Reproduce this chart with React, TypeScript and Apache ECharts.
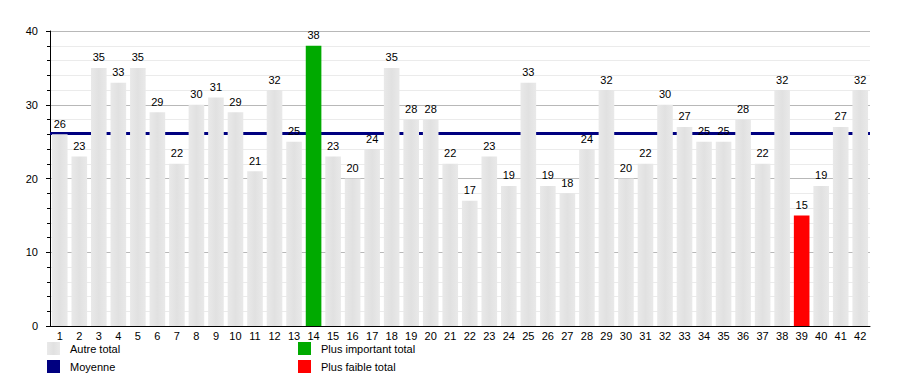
import React, { useEffect, useRef } from "react";
import * as echarts from "echarts";

const categories = ["1","2","3","4","5","6","7","8","9","10","11","12","13","14","15","16","17","18","19","20","21","22","23","24","25","26","27","28","29","30","31","32","33","34","35","36","37","38","39","40","41","42"];
const totals = [26,23,35,33,35,29,22,30,31,29,21,32,25,38,23,20,24,35,28,28,22,17,23,19,33,19,18,24,32,20,22,30,27,25,25,28,22,32,15,19,27,32];
const yTicks = [0, 10, 20, 30, 40];
const seriesNames = ["Autre total", "Moyenne", "Plus important total", "Plus faible total"];

export default function App() {
  const ref = useRef<HTMLDivElement>(null);
  useEffect(() => {
    if (!ref.current) return;
    const chart = echarts.init(ref.current, null, { renderer: "svg" });
    const maxV = Math.max(...totals);
    const minV = Math.min(...totals);
    const maxI = totals.indexOf(maxV);
    const minI = totals.indexOf(minV);
    const mean = totals.reduce((a, b) => a + b, 0) / totals.length;
    const others = totals.map((v, i) => (i === maxI || i === minI ? "-" : v));
    const maxData = totals.map((v, i) => (i === maxI ? v : "-"));
    const minData = totals.map((v, i) => (i === minI ? v : "-"));
    const font = "Liberation Sans";
    const label = { show: true, position: "top", distance: 5, fontSize: 11, color: "#000", fontFamily: font };
    const grey = new echarts.graphic.LinearGradient(0, 0, 1, 0, [
      { offset: 0, color: "#e9e9e9" },
      { offset: 0.5, color: "#e1e1e1" },
      { offset: 1, color: "#e9e9e9" },
    ]);
    const legendText = { fontSize: 11, color: "#000", fontFamily: font, padding: [0, 0, 0, 5] };
    chart.setOption({
      animation: false,
      textStyle: { fontFamily: font },
      grid: { left: 50, right: 30, top: 31, bottom: 49, containLabel: false },
      legend: [
        {
          data: [seriesNames[0], seriesNames[1]],
          orient: "vertical", left: 47, top: 342, icon: "rect",
          itemWidth: 13, itemHeight: 13, itemGap: 5,
          textStyle: legendText,
          padding: 0,
        },
        {
          data: [seriesNames[2], seriesNames[3]],
          orient: "vertical", left: 298, top: 342, icon: "rect",
          itemWidth: 13, itemHeight: 13, itemGap: 5,
          textStyle: legendText,
          padding: 0,
        },
      ],
      xAxis: {
        type: "category",
        data: categories,
        axisLine: { lineStyle: { color: "#000", width: 1 } },
        axisTick: { show: false },
        axisLabel: { interval: 0, fontSize: 11, color: "#000", margin: 4, fontFamily: font },
        splitLine: { show: false },
      },
      yAxis: {
        type: "value",
        min: yTicks[0],
        max: yTicks[yTicks.length - 1],
        interval: 10,
        axisLine: { show: true, lineStyle: { color: "#000", width: 1 } },
        axisTick: { show: true, length: 4, lineStyle: { color: "#000" } },
        minorTick: { show: true, splitNumber: 5, length: 3, lineStyle: { color: "#000" } },
        axisLabel: { fontSize: 11, color: "#000", margin: 12, fontFamily: font },
        splitLine: { show: true, lineStyle: { color: "#b8b8b8", width: 1 } },
        minorSplitLine: { show: true, lineStyle: { color: "#ebebeb", width: 1 } },
      },
      series: [
        {
          name: seriesNames[0], type: "bar", data: others, barWidth: "80%", barGap: "-100%",
          itemStyle: { color: grey }, label, z: 2,
        },
        {
          name: seriesNames[1], type: "line", data: [], z: 1,
          itemStyle: { color: "#000080" }, lineStyle: { color: "#000080" },
          markLine: {
            silent: true, symbol: "none", label: { show: false },
            lineStyle: { color: "#000080", width: 3, type: "solid" },
            data: [{ yAxis: mean }],
            z: 1,
          },
        },
        {
          name: seriesNames[2], type: "bar", data: maxData, barWidth: "80%", barGap: "-100%",
          itemStyle: { color: "#00aa00" }, label, z: 2,
        },
        {
          name: seriesNames[3], type: "bar", data: minData, barWidth: "80%", barGap: "-100%",
          itemStyle: { color: "#ff0000" }, label, z: 2,
        },
      ],
    });
    return () => chart.dispose();
  }, []);
  return <div ref={ref} style={{ position: "absolute", left: 0, top: 0, width: 900, height: 375 }} />;
}
